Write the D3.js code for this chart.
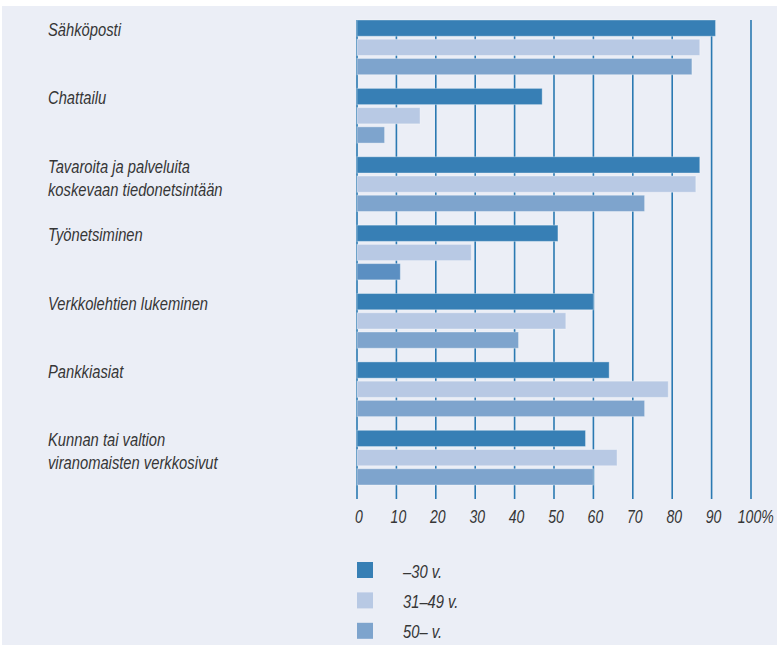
<!DOCTYPE html>
<html>
<head>
<meta charset="utf-8">
<script src="https://cdn.jsdelivr.net/npm/d3@7"></script>
<style>
  html, body { margin: 0; padding: 0; background: #ffffff; }
  svg { display: block; }
  .lbl { font-family: "Liberation Sans", Arial, sans-serif; font-style: italic; fill: #363636; }
</style>
</head>
<body>
<svg id="chart" width="778" height="646"></svg>
<script>
// Internet use by purpose and age group, share of respondents (%)
const categories = [
  ["Sähköposti"],
  ["Chattailu"],
  ["Tavaroita ja palveluita", "koskevaan tiedonetsintään"],
  ["Työnetsiminen"],
  ["Verkkolehtien lukeminen"],
  ["Pankkiasiat"],
  ["Kunnan tai valtion", "viranomaisten verkkosivut"]
];
const seriesNames = ["–30 v.", "31–49 v.", "50– v."];
const young  = [91, 47, 87, 51, 60, 64, 58];
const middle = [87, 16, 86, 29, 53, 79, 66];
const older  = [85, 7, 73, 11, 41, 73, 60];
const tickValues = [0, 10, 20, 30, 40, 50, 60, 70, 80, 90, 100];
const tickLabels = ["0", "10", "20", "30", "40", "50", "60", "70", "80", "90", "100%"];

const colors = ["#377fb5", "#b8c9e4", "#7ea4cd"];
// the 50– bar of Työnetsiminen is printed in a deeper tone
const deepTone = { cat: 3, series: 2, color: "#5b8fc2" };

// narrow the sans italic into a condensed face
const squeeze = 0.82;

const svg = d3.select("#chart");

// panel background
svg.append("rect").attr("x", 2).attr("y", 6).attr("width", 775).attr("height", 639)
  .attr("fill", "#ebeef6");

const keys = categories.map(c => c.join(" "));
const values = [young, middle, older];

const x = d3.scaleLinear().domain([0, 100]).range([357, 751]);
const y = d3.scaleBand().domain(keys).range([20, 485]).paddingInner(0.2).paddingOuter(0);
const ySub = d3.scaleBand().domain(d3.range(3)).range([0, y.bandwidth()]).paddingInner(0.155);

// vertical grid lines
svg.append("g").selectAll("line").data(tickValues).join("line")
  .attr("x1", d => x(d)).attr("x2", d => x(d))
  .attr("y1", 20).attr("y2", 499)
  .attr("stroke", "#2a79b2").attr("stroke-width", 1.6);

// bars
const groups = svg.append("g").selectAll("g").data(keys).join("g")
  .attr("transform", d => `translate(0,${y(d)})`);

groups.selectAll("rect")
  .data((k, i) => values.map((s, j) => ({ v: s[i], i, j })))
  .join("rect")
  .attr("x", x(0))
  .attr("y", d => ySub(d.j))
  .attr("width", d => x(d.v) - x(0))
  .attr("height", ySub.bandwidth())
  .attr("fill", d => (d.i === deepTone.cat && d.j === deepTone.series) ? deepTone.color : colors[d.j])
  .attr("stroke", "rgba(255,255,255,0.35)")
  .attr("stroke-width", 1);

// category labels
const labels = svg.append("g").selectAll("text").data(categories).join("text")
  .attr("class", "lbl")
  .attr("transform", (d, i) => `translate(48,${y(keys[i]) + 16}) scale(${squeeze},1)`)
  .attr("font-size", 18);
labels.selectAll("tspan").data(d => d).join("tspan")
  .attr("x", 0)
  .attr("dy", (d, i) => i === 0 ? 0 : 23)
  .text(d => d);

// axis tick labels
const axis = d3.axisBottom(x).tickValues(tickValues)
  .tickFormat((d, i) => tickLabels[i]).tickSize(0).tickPadding(0);
const ax = svg.append("g").attr("transform", "translate(1.5,510)").call(axis);
ax.select(".domain").remove();
ax.selectAll("text")
  .attr("class", "lbl").attr("font-size", 18).attr("dy", "0.71em")
  .attr("x", d => d === 100 ? 3.5 : 0)
  .attr("transform", "scale(0.78,1)");

// legend
const legend = svg.append("g").selectAll("g").data(seriesNames).join("g")
  .attr("transform", (d, i) => `translate(357,${562 + i * 30.4})`);
legend.append("rect").attr("width", 16).attr("height", 16).attr("fill", (d, i) => colors[i]);
legend.append("text").attr("class", "lbl")
  .attr("transform", `translate(46,15.5) scale(${squeeze},1)`)
  .attr("font-size", 18).text(d => d);
</script>
</body>
</html>
